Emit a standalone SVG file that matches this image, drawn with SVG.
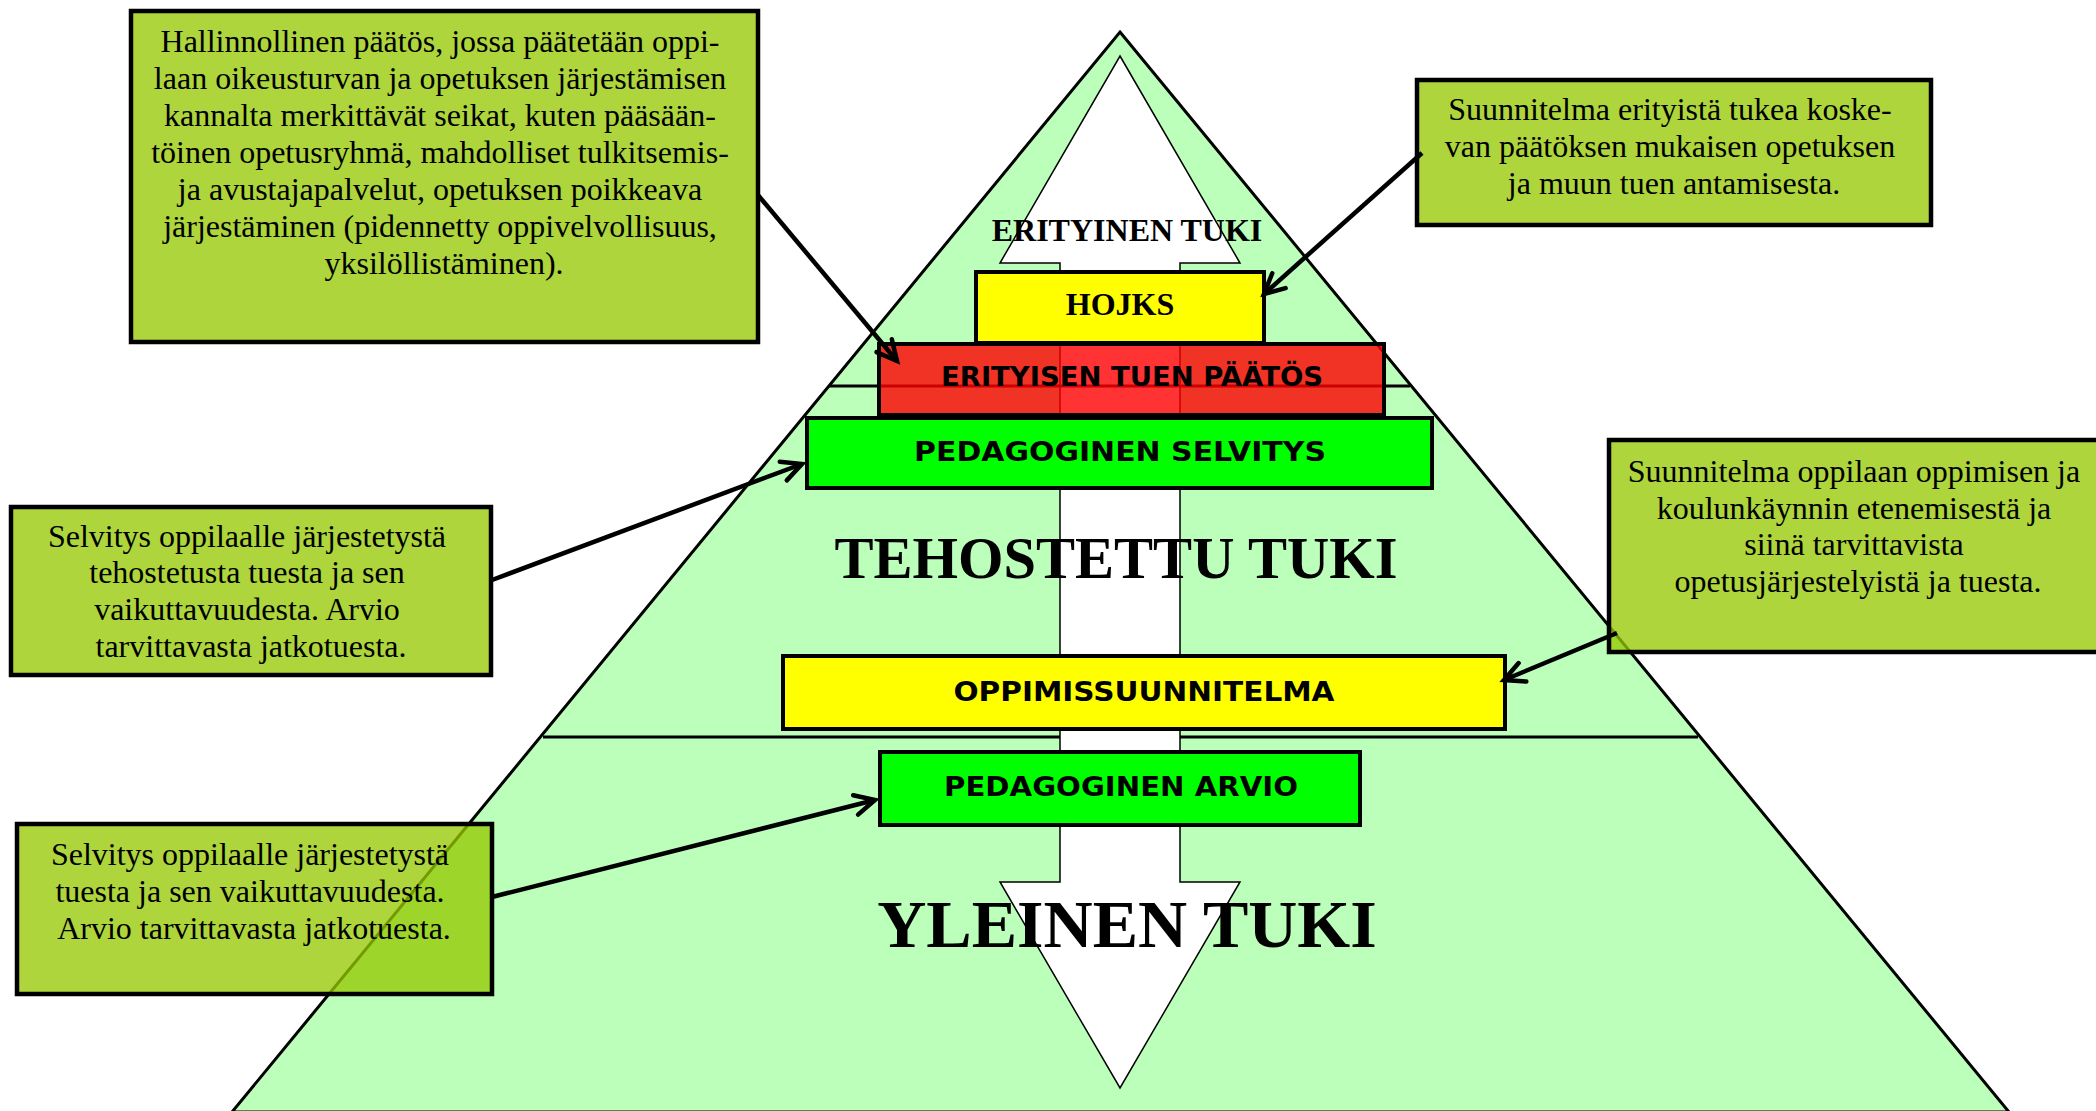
<svg xmlns="http://www.w3.org/2000/svg" width="2096" height="1111" viewBox="0 0 2096 1111">
<defs>
<style>
.serif{font-family:"Liberation Serif","Times New Roman",serif;fill:#000}
.note{font-size:32px;text-anchor:middle}
.big{font-weight:bold;text-anchor:middle}
.lbl{font-family:"DejaVu Sans","Liberation Sans",sans-serif;font-weight:bold;font-size:26px;text-anchor:middle;fill:#000}
.callout{fill:#96C900;fill-opacity:0.77;stroke:#000;stroke-width:4.5}
.inner{stroke:#000;stroke-width:4}
.conn{stroke:#000;stroke-width:4.5;fill:none;marker-end:url(#ah)}
</style>
<marker id="ah" markerUnits="userSpaceOnUse" markerWidth="30" markerHeight="30" viewBox="-4 -4 30 30" refX="20" refY="10" orient="auto">
<path d="M0,0 L20,10 L0,20" fill="none" stroke="#000" stroke-width="4.5" stroke-linecap="round" stroke-linejoin="miter"/>
</marker>
</defs>

<g id="pyramid">
<polygon points="1120,32 2009,1112 232,1112" fill="#BBFFBB" stroke="#000" stroke-width="3"/>
<line x1="543" y1="737" x2="1698" y2="737" stroke="#000" stroke-width="3"/>
<polygon id="double-arrow" points="1120,56 1240,263 1180,263 1180,882 1240,882 1120,1088 1000,882 1060,882 1060,263 1000,263" fill="#fff" stroke="#000" stroke-width="1.5"/>
<line x1="829" y1="386" x2="1410" y2="386" stroke="#000" stroke-width="3"/>
<text class="serif big" x="1127" y="241" font-size="32">ERITYINEN TUKI</text>
<text class="serif big" x="1116" y="578" font-size="58.5">TEHOSTETTU TUKI</text>
<text class="serif big" x="1127" y="947" font-size="68">YLEINEN TUKI</text>
</g>

<g id="hojks">
<rect class="inner" x="976" y="272" width="288" height="71" fill="#FFFF00"/>
<text class="serif big" x="1120" y="315" font-size="32">HOJKS</text>
</g>

<g id="erityisen-tuen-paatos">
<rect x="879" y="344" width="505" height="71" fill="#FF0000" fill-opacity="0.8" stroke="#000" stroke-width="4"/>
<text class="lbl" x="1132" y="386" textLength="382" lengthAdjust="spacingAndGlyphs">ERITYISEN TUEN PÄÄTÖS</text>
</g>

<g id="pedagoginen-selvitys">
<rect class="inner" x="807" y="418" width="625" height="70" fill="#00FF00"/>
<text class="lbl" x="1120" y="461" font-size="27" textLength="412" lengthAdjust="spacingAndGlyphs">PEDAGOGINEN SELVITYS</text>
</g>

<g id="oppimissuunnitelma">
<rect class="inner" x="783" y="656" width="722" height="73" fill="#FFFF00"/>
<text class="lbl" x="1144" y="701" font-size="27" textLength="381" lengthAdjust="spacingAndGlyphs">OPPIMISSUUNNITELMA</text>
</g>

<g id="pedagoginen-arvio">
<rect class="inner" x="880" y="752" width="480" height="73" fill="#00FF00"/>
<text class="lbl" x="1121" y="796" font-size="27" textLength="354" lengthAdjust="spacingAndGlyphs">PEDAGOGINEN ARVIO</text>
</g>

<g id="note-paatos">
<rect class="callout" x="131" y="11" width="627" height="331"/>
<text class="serif note">
<tspan x="444" y="52">Hallinnollinen päätös, jossa päätetään oppi-</tspan>
<tspan x="444" y="89">laan oikeusturvan ja opetuksen järjestämisen</tspan>
<tspan x="444" y="126">kannalta merkittävät seikat, kuten pääsään-</tspan>
<tspan x="444" y="163">töinen opetusryhmä, mahdolliset tulkitsemis-</tspan>
<tspan x="444" y="200">ja avustajapalvelut, opetuksen poikkeava</tspan>
<tspan x="444" y="237">järjestäminen (pidennetty oppivelvollisuus,</tspan>
<tspan x="444" y="274">yksilöllistäminen).</tspan>
</text>
</g>

<g id="note-hojks">
<rect class="callout" x="1417" y="80" width="514" height="145"/>
<text class="serif note">
<tspan x="1674" y="120">Suunnitelma erityistä tukea koske-</tspan>
<tspan x="1674" y="157">van päätöksen mukaisen opetuksen</tspan>
<tspan x="1674" y="194">ja muun tuen antamisesta.</tspan>
</text>
</g>

<g id="note-oppimissuunnitelma">
<rect class="callout" x="1609" y="440" width="500" height="212"/>
<text class="serif note">
<tspan x="1858" y="482">Suunnitelma oppilaan oppimisen ja</tspan>
<tspan x="1858" y="519">koulunkäynnin etenemisestä ja</tspan>
<tspan x="1858" y="555">siinä tarvittavista</tspan>
<tspan x="1858" y="592">opetusjärjestelyistä ja tuesta.</tspan>
</text>
</g>

<g id="note-selvitys">
<rect class="callout" x="11" y="507" width="480" height="168"/>
<text class="serif note">
<tspan x="251" y="547">Selvitys oppilaalle järjestetystä</tspan>
<tspan x="251" y="583">tehostetusta tuesta ja sen</tspan>
<tspan x="251" y="620">vaikuttavuudesta. Arvio</tspan>
<tspan x="251" y="657">tarvittavasta jatkotuesta.</tspan>
</text>
</g>

<g id="note-arvio">
<rect class="callout" x="17" y="824" width="475" height="170"/>
<text class="serif note">
<tspan x="254" y="865">Selvitys oppilaalle järjestetystä</tspan>
<tspan x="254" y="902">tuesta ja sen vaikuttavuudesta.</tspan>
<tspan x="254" y="939">Arvio tarvittavasta jatkotuesta.</tspan>
</text>
</g>

<g id="connectors">
<line class="conn" x1="758" y1="195" x2="897" y2="361"/>
<line class="conn" x1="1422" y1="153" x2="1264" y2="294"/>
<line class="conn" x1="492" y1="580" x2="802" y2="464"/>
<line class="conn" x1="1617" y1="633" x2="1504" y2="680"/>
<line class="conn" x1="492" y1="897" x2="875" y2="800"/>
</g>
</svg>
